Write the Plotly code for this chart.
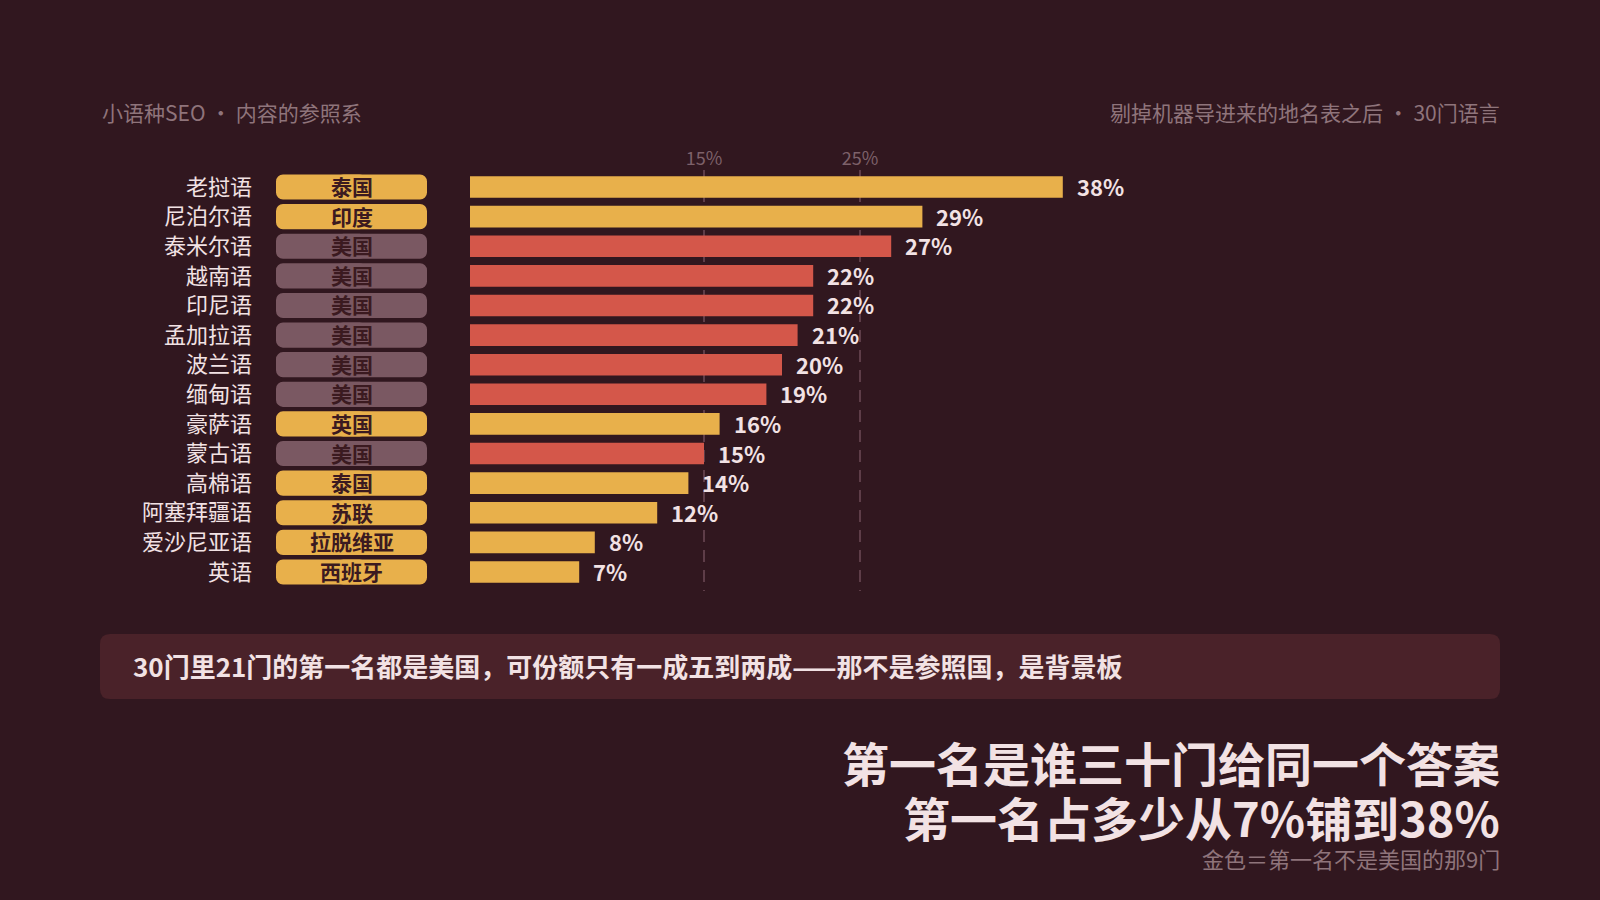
import plotly.graph_objects as go

# ---- data ----
languages = ["老挝语", "尼泊尔语", "泰米尔语", "越南语", "印尼语", "孟加拉语", "波兰语",
             "缅甸语", "豪萨语", "蒙古语", "高棉语", "阿塞拜疆语", "爱沙尼亚语", "英语"]
top_country = ["泰国", "印度", "美国", "美国", "美国", "美国", "美国",
               "美国", "英国", "美国", "泰国", "苏联", "拉脱维亚", "西班牙"]
share_pct = [38, 29, 27, 22, 22, 21, 20, 19, 16, 15, 14, 12, 8, 7]
tick_vals = [15, 25]
tick_text = ["15%", "25%"]

header_left = "小语种SEO · 内容的参照系"
header_right = "剔掉机器导进来的地名表之后 · 30门语言"
callout = "30门里21门的第一名都是美国，可份额只有一成五到两成——那不是参照国，是背景板"
title_1 = "第一名是谁三十门给同一个答案"
title_2 = "第一名占多少从7%铺到38%"
footnote = "金色＝第一名不是美国的那9门"

# ---- style ----
W, H = 1600, 900
BG = "#31171f"
GOLD = "#e8b04b"
RED = "#d4574a"
PILL_GRAY = "#7a5862"
PILL_TEXT = "#3b1a20"
LIGHT = "#f2e2e4"
MUTED = "#8f747b"
TICK = "#7d616a"
GRID = "#5e3d48"
BOX = "#4a2229"
FONT = "Noto Sans CJK SC"

bar_colors = [RED if c == "美国" else GOLD for c in top_country]
pill_colors = [PILL_GRAY if c == "美国" else GOLD for c in top_country]

X0_PX = 470
PX_PER_PCT = 15.6
X_MAX = 60
x_dom = [X0_PX / W, (X0_PX + PX_PER_PCT * X_MAX) / W]
y_top_px, y_bot_px = 170, 591
y_dom = [1 - y_bot_px / H, 1 - y_top_px / H]

fig = go.Figure()

# country pills: two overlapping halves growing outwards so both ends are rounded
for base, length in ((0.4, 0.6), (0.6, -0.6)):
    fig.add_trace(go.Bar(
        x=[length] * len(languages), y=languages, base=base, orientation="h",
        xaxis="x2", yaxis="y",
        marker=dict(color=pill_colors, cornerradius=7, line=dict(width=0)),
        width=0.85,
        hoverinfo="skip", showlegend=False,
    ))

# share bars
fig.add_trace(go.Bar(
    x=share_pct, y=languages, orientation="h",
    xaxis="x", yaxis="y",
    marker=dict(color=bar_colors, line=dict(width=0)),
    width=0.73,
    hoverinfo="skip", showlegend=False,
))

annotations = []
for lang, c in zip(languages, top_country):
    annotations.append(dict(
        x=0.5, y=lang, xref="x2", yref="y", xanchor="center", yanchor="middle",
        yshift=1, text=c, showarrow=False,
        font=dict(family=FONT, size=21, color=PILL_TEXT, weight=700),
    ))
for lang, v in zip(languages, share_pct):
    annotations.append(dict(
        x=v, y=lang, xref="x", yref="y", xanchor="left", yanchor="middle",
        xshift=12, yshift=1, text=f"{v}%", showarrow=False,
        font=dict(family=FONT, size=22, color=LIGHT, weight=700),
    ))

annotations += [
    dict(x=100 / W, y=1 - 112 / H, xref="paper", yref="paper", xanchor="left", yanchor="middle",
         text=header_left, showarrow=False, font=dict(family=FONT, size=21, color=MUTED)),
    dict(x=1502 / W, y=1 - 112 / H, xref="paper", yref="paper", xanchor="right", yanchor="middle",
         text=header_right, showarrow=False, font=dict(family=FONT, size=21, color=MUTED)),
    dict(x=131 / W, y=1 - 665 / H, xref="paper", yref="paper", xanchor="left", yanchor="middle",
         text=callout, showarrow=False, font=dict(family=FONT, size=26, color=LIGHT, weight=700)),
    dict(x=1502 / W, y=1 - 761 / H, xref="paper", yref="paper", xanchor="right", yanchor="middle",
         text=title_1, showarrow=False, font=dict(family=FONT, size=47, color=LIGHT, weight=700)),
    dict(x=1502 / W, y=1 - 816 / H, xref="paper", yref="paper", xanchor="right", yanchor="middle",
         text=title_2, showarrow=False, font=dict(family=FONT, size=47, color=LIGHT, weight=700)),
    dict(x=1502 / W, y=1 - 858 / H, xref="paper", yref="paper", xanchor="right", yanchor="middle",
         text=footnote, showarrow=False, font=dict(family=FONT, size=22, color=MUTED)),
]

# rounded callout box (paper coords)
bx0, bx1, by0, by1, r = 100, 1500, 634, 699, 10
def px(x): return x / W
def py(y): return 1 - y / H
box_path = (
    f"M {px(bx0 + r)},{py(by0)} L {px(bx1 - r)},{py(by0)} "
    f"Q {px(bx1)},{py(by0)} {px(bx1)},{py(by0 + r)} "
    f"L {px(bx1)},{py(by1 - r)} Q {px(bx1)},{py(by1)} {px(bx1 - r)},{py(by1)} "
    f"L {px(bx0 + r)},{py(by1)} Q {px(bx0)},{py(by1)} {px(bx0)},{py(by1 - r)} "
    f"L {px(bx0)},{py(by0 + r)} Q {px(bx0)},{py(by0)} {px(bx0 + r)},{py(by0)} Z"
)

fig.update_layout(
    width=W, height=H,
    margin=dict(l=0, r=0, t=0, b=0),
    paper_bgcolor=BG, plot_bgcolor="rgba(0,0,0,0)",
    font=dict(family=FONT, color=LIGHT),
    barmode="overlay",
    xaxis=dict(
        domain=x_dom, range=[0, X_MAX], anchor="y", side="top",
        tickvals=tick_vals, ticktext=tick_text, ticks="",
        tickfont=dict(family=FONT, size=18, color=TICK),
        showgrid=True, gridcolor=GRID, gridwidth=2, griddash="12px,8px",
        zeroline=False, showline=False, fixedrange=True,
    ),
    xaxis2=dict(
        domain=[276 / W, 427 / W], range=[0, 1], anchor="y",
        visible=False, fixedrange=True,
    ),
    yaxis=dict(
        domain=y_dom, categoryorder="array", categoryarray=languages,
        autorange="reversed", anchor="free", position=252 / W,
        ticks="", showgrid=False, zeroline=False, showline=False,
        tickfont=dict(family=FONT, size=22, color=LIGHT), fixedrange=True,
    ),
    shapes=[dict(type="path", xref="paper", yref="paper", path=box_path,
                 fillcolor=BOX, line=dict(width=0), layer="below")],
    annotations=annotations,
)

fig.write_html(
    "out.html",
    config={"displayModeBar": False},
    post_script="document.body.style.margin='0';document.body.style.background='" + BG + "';",
)
